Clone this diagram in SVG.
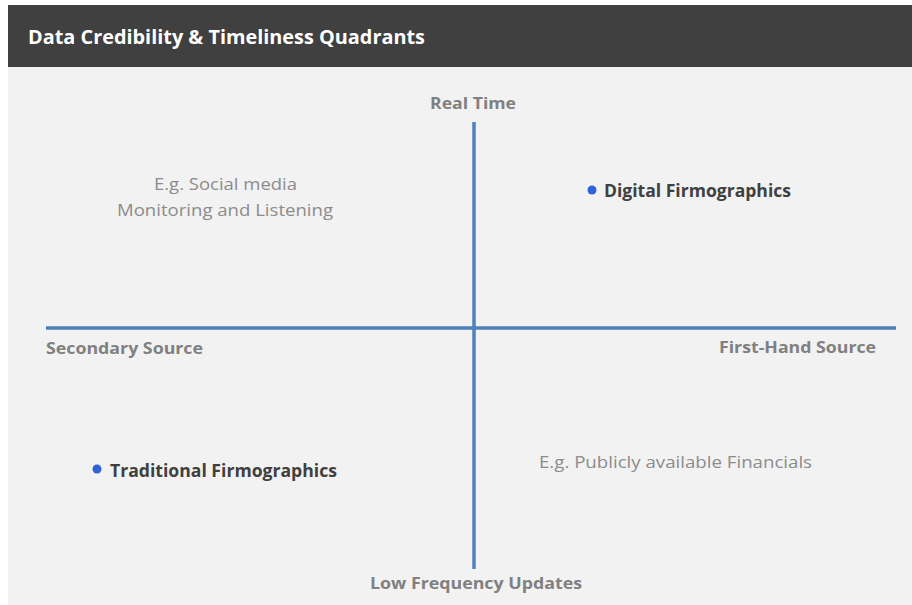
<svg xmlns="http://www.w3.org/2000/svg" width="912" height="605" viewBox="0 0 912 605">
  <style>
    .title { font-family: "Open Sans", "Liberation Sans", sans-serif; font-weight: 700; font-size: 19px; fill: #ffffff; }
    .axis { font-family: "Open Sans", "Liberation Sans", sans-serif; font-weight: 700; font-size: 16px; fill: #808080; }
    .note { font-family: "Open Sans", "Liberation Sans", sans-serif; font-size: 17px; fill: #8c8c8c; }
    .item { font-family: "Open Sans", "Liberation Sans", sans-serif; font-weight: 700; font-size: 17.5px; fill: #404040; }
    .bullet { fill: #2e62d6; }
    .line { stroke: #4f81bd; stroke-width: 3.5; fill: none; }
  </style>

  <!-- backdrop and header bar -->
  <rect x="8" y="5" width="904" height="600" fill="#f2f2f2"/>
  <rect x="8" y="5" width="904" height="62" fill="#404040"/>
  <text class="title" x="28" y="44" textLength="397" lengthAdjust="spacingAndGlyphs">Data Credibility &amp; Timeliness Quadrants</text>

  <!-- quadrant axes -->
  <g id="axes">
    <line class="line" x1="474" y1="122" x2="474" y2="569"/>
    <line class="line" x1="46" y1="328" x2="896" y2="328"/>
  </g>

  <!-- axis labels -->
  <g id="axis-labels">
    <text class="axis" x="430" y="109" textLength="86" lengthAdjust="spacingAndGlyphs">Real Time</text>
    <text class="axis" x="46" y="354" textLength="157" lengthAdjust="spacingAndGlyphs">Secondary Source</text>
    <text class="axis" x="719" y="353" textLength="157" lengthAdjust="spacingAndGlyphs">First-Hand Source</text>
    <text class="axis" x="370" y="589" textLength="212" lengthAdjust="spacingAndGlyphs">Low Frequency Updates</text>
  </g>

  <!-- example notes -->
  <g id="note-social">
    <text class="note" x="154" y="190" textLength="143" lengthAdjust="spacingAndGlyphs">E.g. Social media</text>
    <text class="note" x="117" y="216" textLength="216" lengthAdjust="spacingAndGlyphs">Monitoring and Listening</text>
  </g>
  <g id="note-financials">
    <text class="note" x="539" y="468" textLength="273" lengthAdjust="spacingAndGlyphs">E.g. Publicly available Financials</text>
  </g>

  <!-- plotted items -->
  <g id="digital-firmographics">
    <circle class="bullet" cx="592" cy="190" r="4.5"/>
    <text class="item" x="604" y="197" textLength="187" lengthAdjust="spacingAndGlyphs">Digital Firmographics</text>
  </g>
  <g id="traditional-firmographics">
    <circle class="bullet" cx="97" cy="469" r="4.5"/>
    <text class="item" x="110" y="477" textLength="227" lengthAdjust="spacingAndGlyphs">Traditional Firmographics</text>
  </g>
</svg>
